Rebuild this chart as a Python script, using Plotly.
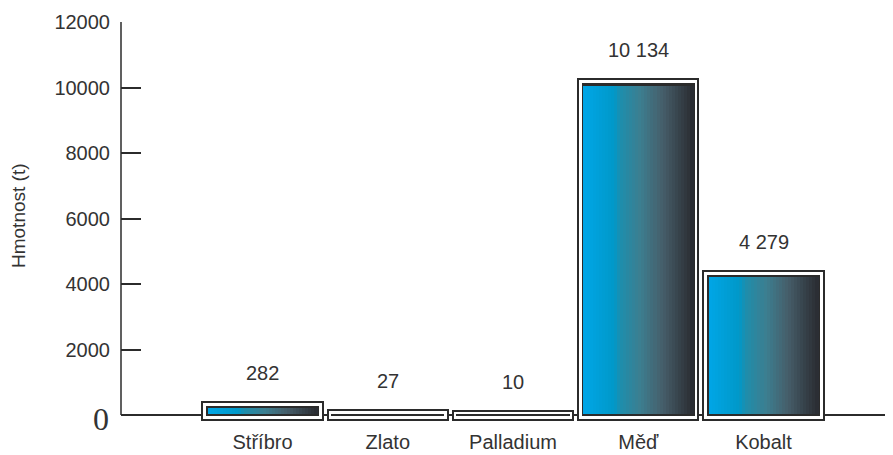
import plotly.graph_objects as go

# ---- data ----
categories = ["Stříbro", "Zlato", "Palladium", "Měď", "Kobalt"]
values = [282, 27, 10, 10134, 4279]
value_labels = ["282", "27", "10", "10 134", "4 279"]
ytick_vals = [2000, 4000, 6000, 8000, 10000, 12000]
ytick_text = ["2000", "4000", "6000", "8000", "10000", "12000"]
y_title = "Hmotnost (t)"

# ---- layout constants ----
W, H = 893, 455
M_L, M_R, M_T, M_B = 121, 8, 22, 30
PLOT_W = W - M_L - M_R
ZERO_PX = 415  # pixel row of y=0
PX = (ZERO_PX - M_T) / 12000.0  # pixels per data unit
Y_MIN = -(H - M_B - ZERO_PX) / PX
FONT = "Liberation Sans, Arial, sans-serif"
TXT = "#333333"
DARK = "#2b2b2b"

stops = [
    (0.00, (0, 166, 230)),
    (0.28, (0, 152, 200)),
    (0.34, (30, 142, 172)),
    (0.52, (60, 126, 144)),
    (0.72, (70, 94, 106)),
    (1.00, (42, 44, 49)),
]


def grad(t):
    for (p0, c0), (p1, c1) in zip(stops[:-1], stops[1:]):
        if p0 <= t <= p1:
            f = (t - p0) / (p1 - p0)
            c = [round(a + (b - a) * f) for a, b in zip(c0, c1)]
            return "rgb(%d,%d,%d)" % tuple(c)
    return "rgb(%d,%d,%d)" % stops[-1][1]


fig = go.Figure()

# outer frame: white fill, dark outline
pad_out_top = 4 / PX
pad_out_bot = 5 / PX
fig.add_trace(go.Bar(
    x=categories, y=[v + pad_out_top + pad_out_bot for v in values],
    base=[-pad_out_bot] * len(values), width=0.96,
    marker=dict(color="white", line=dict(color=DARK, width=2)),
    hoverinfo="skip", showlegend=False,
))
# inner dark border
fig.add_trace(go.Bar(
    x=categories, y=[v + 1 / PX for v in values],
    base=[-1 / PX] * len(values), width=0.905,
    marker=dict(color=DARK, line=dict(width=0)),
    hoverinfo="skip", showlegend=False,
))
# gradient fill, as thin vertical slices
N = 36
GW = 0.875
inner_bot = 1 / PX
inner_top = 2.5 / PX
gh = [max(v - inner_top - inner_bot, 0) for v in values]
for i in range(N):
    fig.add_trace(go.Bar(
        x=categories, y=gh, base=[inner_bot] * len(values),
        width=GW / N * 1.15, offset=-GW / 2 + i * GW / N,
        marker=dict(color=grad((i + 0.5) / N), line=dict(width=0)),
        hoverinfo="skip", showlegend=False,
    ))

# value labels
for c, v, t in zip(categories, values, value_labels):
    fig.add_annotation(x=c, y=v, text=t, showarrow=False, yshift=33,
                       font=dict(family=FONT, size=20, color=TXT))

# big "0" at the origin
fig.add_annotation(xref="paper", x=0, y=0, text="0", showarrow=False,
                   xanchor="right", xshift=-10, yshift=-4,
                   font=dict(family="Liberation Serif, serif", size=32, color=TXT))

# y-axis title
fig.add_annotation(xref="paper", yref="paper", x=(18 - M_L) / PLOT_W,
                   y=(H - M_B - 216) / (H - M_T - M_B), text=y_title,
                   textangle=-90, showarrow=False, xanchor="center", yanchor="middle",
                   font=dict(family=FONT, size=19, color=TXT))

# y-axis line from 0 to 12000
fig.add_shape(type="line", xref="paper", x0=0, x1=0, yref="y", y0=0, y1=12000,
              line=dict(color=DARK, width=1.5))

fig.update_layout(
    width=W, height=H,
    margin=dict(l=M_L, r=M_R, t=M_T, b=M_B, autoexpand=False),
    paper_bgcolor="white", plot_bgcolor="white",
    barmode="overlay", bargap=0,
    font=dict(family=FONT, size=20, color=TXT),
    xaxis=dict(type="category", range=[-1.13, 4.97], showline=False,
               showgrid=False, zeroline=False, ticks="", automargin=False,
               tickfont=dict(family=FONT, size=20, color=TXT),
               ticklabelstandoff=3),
    yaxis=dict(range=[Y_MIN, 12000], showgrid=False, showline=False,
               zeroline=True, zerolinecolor=DARK, zerolinewidth=1.5,
               tickvals=ytick_vals, ticktext=ytick_text, automargin=False,
               ticks="inside", ticklen=20, tickwidth=1.5, tickcolor=DARK,
               ticklabelstandoff=10,
               tickfont=dict(family=FONT, size=20, color=TXT)),
)

fig.write_html("out.html", config={"displayModeBar": False},
               post_script="document.body.style.margin='0';")
